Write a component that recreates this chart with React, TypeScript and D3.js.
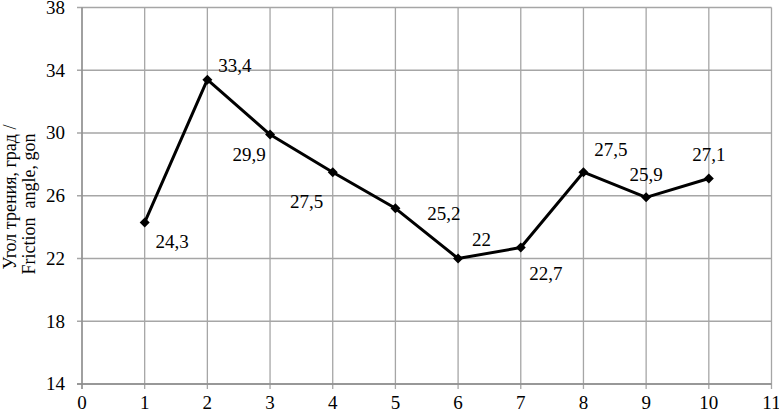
import React from "react";
import * as d3 from "d3";

const xValues = [1, 2, 3, 4, 5, 6, 7, 8, 9, 10];
const yValues = [24.3, 33.4, 29.9, 27.5, 25.2, 22, 22.7, 27.5, 25.9, 27.1];
const labels = ["24,3", "33,4", "29,9", "27,5", "25,2", "22", "22,7", "27,5", "25,9", "27,1"];
// label offsets relative to point (dx, dy of text center)
const labelOffsets: [number, number][] = [
  [27.5, 19], [27.5, -14], [-21, 20], [-26, 29], [48.5, 5.5], [23.5, -18.6], [25, 26], [27.5, -22.5], [0, -23], [0, -24],
];
const xTicks = d3.range(0, 12);
const yTicks = [14, 18, 22, 26, 30, 34, 38];

export default function App() {
  const W = 779, H = 414;
  const x = d3.scaleLinear().domain([0, 11]).range([82, 771.5]);
  const y = d3.scaleLinear().domain([14, 38]).range([384, 7.5]);
  const line = d3.line<number>().x((_, i) => x(xValues[i])).y((d) => y(d));
  const ts: React.CSSProperties = { fontFamily: "'Liberation Serif', 'Times New Roman', serif", fontSize: "19px" };
  const tt: React.CSSProperties = { ...ts, fontSize: "18px", whiteSpace: "pre" };
  return (
    <svg width={W} height={H} style={{ position: "absolute", left: 0, top: 0, background: "#fff" }}>
      {xTicks.map((t) => (
        <line key={"vx" + t} x1={x(t)} x2={x(t)} y1={y(38)} y2={y(14) + 5} stroke="#a6a6a6" strokeWidth={1.3} />
      ))}
      {yTicks.map((t) => (
        <line key={"hy" + t} x1={x(0) - 5} x2={x(11)} y1={y(t)} y2={y(t)} stroke="#a6a6a6" strokeWidth={1.3} />
      ))}
      <line x1={x(0)} x2={x(0)} y1={y(38)} y2={y(14) + 5} stroke="#8c8c8c" strokeWidth={1.3} />
      <line x1={x(0) - 5} x2={x(11)} y1={y(14)} y2={y(14)} stroke="#8c8c8c" strokeWidth={1.3} />
      {xTicks.map((t) => (
        <text key={"xl" + t} x={x(t)} y={y(14) + 25} textAnchor="middle" style={ts} fill="#000">{t}</text>
      ))}
      {yTicks.map((t) => (
        <text key={"yl" + t} x={x(0) - 17} y={y(t) + 6.3} textAnchor="end" style={ts} fill="#000">{t}</text>
      ))}
      <text transform="translate(16,197) rotate(-90)" textAnchor="middle" style={tt} fill="#000">Угол трения, град /</text>
      <text transform="translate(35,204) rotate(-90)" textAnchor="middle" style={tt} fill="#000">{"Friction  angle, gon"}</text>
      <path d={line(yValues) || ""} fill="none" stroke="#000" strokeWidth={3} strokeLinejoin="round" />
      {yValues.map((v, i) => {
        const cx = x(xValues[i]), cy = y(v);
        return <path key={"m" + i} d={`M${cx},${cy - 5}L${cx + 5},${cy}L${cx},${cy + 5}L${cx - 5},${cy}Z`} fill="#000" />;
      })}
      {yValues.map((v, i) => (
        <text key={"dl" + i} x={x(xValues[i]) + labelOffsets[i][0]} y={y(v) + labelOffsets[i][1] + 6.3} textAnchor="middle" style={ts} fill="#000">{labels[i]}</text>
      ))}
    </svg>
  );
}
